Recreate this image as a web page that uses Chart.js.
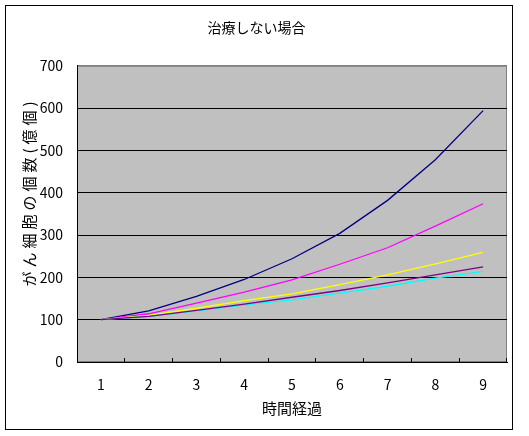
<!DOCTYPE html>
<html lang="ja">
<head>
<meta charset="utf-8">
<title>治療しない場合</title>
<script src="https://cdn.jsdelivr.net/npm/chart.js@4/dist/chart.umd.min.js"></script>
<style>
  html, body { margin: 0; padding: 0; background: #fff; }
  .wrap { position: relative; width: 529px; height: 436px; }
  .frame { position: absolute; left: 5px; top: 5px; width: 506px; height: 423px; border: 1px solid #000; pointer-events: none; }
  canvas { position: absolute; left: 0; top: 0; }
</style>
</head>
<body>
<div class="wrap">
  <canvas id="cellChart" width="529" height="436"></canvas>
  <div class="frame"></div>
</div>
<script>
// categories and series
const timeSteps = ['1', '2', '3', '4', '5', '6', '7', '8', '9'];
const navySeries = [100, 121, 155, 195, 244, 304, 382, 478, 594];
const magentaSeries = [100, 114, 139, 165, 194, 231, 270, 321, 374];
const yellowSeries = [100, 110, 127, 145, 161, 183, 206, 232, 259];
const cyanSeries = [100, 108, 121, 135, 147, 163, 179, 198, 214];
const purpleSeries = [100, 108, 122, 137, 153, 169, 187, 206, 225];
const yTicks = [0, 100, 200, 300, 400, 500, 600, 700];

const jpFont = "'Noto Sans CJK JP', 'Noto Sans', sans-serif";

// gray plot area with a gray border on top/right
const plotBackground = {
  id: 'plotBackground',
  beforeDraw(chart) {
    const { ctx, chartArea: a } = chart;
    ctx.save();
    ctx.fillStyle = '#c0c0c0';
    ctx.fillRect(a.left, a.top, a.right - a.left, a.bottom - a.top);
    ctx.strokeStyle = '#808080';
    ctx.lineWidth = 1;
    ctx.strokeRect(a.left + 0.5, a.top + 0.5, a.right - a.left - 1, a.bottom - a.top - 1);
    ctx.restore();
  }
};

// the y title in the original is spread out along its length
const spreadYTitle = {
  id: 'spreadYTitle',
  beforeDraw(chart) {
    const scale = chart.scales.y;
    if (!scale || scale._spread) return;
    const drawTitle = scale.drawTitle;
    scale.drawTitle = function() {
      const ctx = this.ctx;
      ctx.save();
      ctx.letterSpacing = '4px';
      ctx.translate(0, -22);
      drawTitle.call(this);
      ctx.restore();
    };
    scale._spread = true;
  }
};

function makeSet(label, data, color, order) {
  return {
    label: label,
    data: data,
    borderColor: color,
    backgroundColor: color,
    borderWidth: 1.3,
    pointRadius: 0,
    tension: 0,
    fill: false,
    order: order
  };
}

new Chart(document.getElementById('cellChart'), {
  type: 'line',
  data: {
    labels: timeSteps,
    datasets: [
      makeSet('系列1', navySeries, '#000080', 5),
      makeSet('系列2', magentaSeries, '#ff00ff', 4),
      makeSet('系列3', yellowSeries, '#ffff00', 3),
      makeSet('系列4', cyanSeries, '#00ffff', 2),
      makeSet('系列5', purpleSeries, '#800080', 1)
    ]
  },
  options: {
    responsive: false,
    animation: false,
    devicePixelRatio: 1,
    layout: { padding: { left: 6, right: 22, top: 0, bottom: 0 } },
    plugins: {
      legend: { display: false },
      tooltip: { enabled: false },
      title: {
        display: true,
        text: '治療しない場合',
        color: '#000',
        font: { family: jpFont, size: 14, weight: 'normal' },
        padding: { top: 19, bottom: 30 }
      }
    },
    scales: {
      x: {
        offset: true,
        afterFit: s => { s.height = 74; },
        border: { color: '#000', width: 1 },
        grid: {
          offset: true,
          drawOnChartArea: false,
          drawTicks: true,
          tickLength: -4,
          color: '#000'
        },
        ticks: {
          color: '#000',
          padding: 18,
          maxRotation: 0,
          font: { family: jpFont, size: 14 }
        },
        title: {
          display: true,
          text: '時間経過',
          color: '#000',
          font: { family: jpFont, size: 15 },
          padding: { top: 0, bottom: 19 }
        }
      },
      y: {
        min: 0,
        max: 700,
        afterFit: s => { s.width = 71; },
        afterBuildTicks: s => { s.ticks = yTicks.map(v => ({ value: v })); },
        border: { color: '#000', width: 1 },
        grid: {
          drawTicks: false,
          color: c => (c.tick && c.tick.value === 700 ? '#808080' : '#000')
        },
        ticks: {
          color: '#000',
          padding: 14,
          font: { family: jpFont, size: 14 }
        },
        title: {
          display: true,
          text: 'がん細胞の個数(億個)',
          color: '#000',
          font: { family: jpFont, size: 15 },
          padding: { top: 14, bottom: 0 }
        }
      }
    }
  },
  plugins: [plotBackground, spreadYTitle]
});
</script>
</body>
</html>
